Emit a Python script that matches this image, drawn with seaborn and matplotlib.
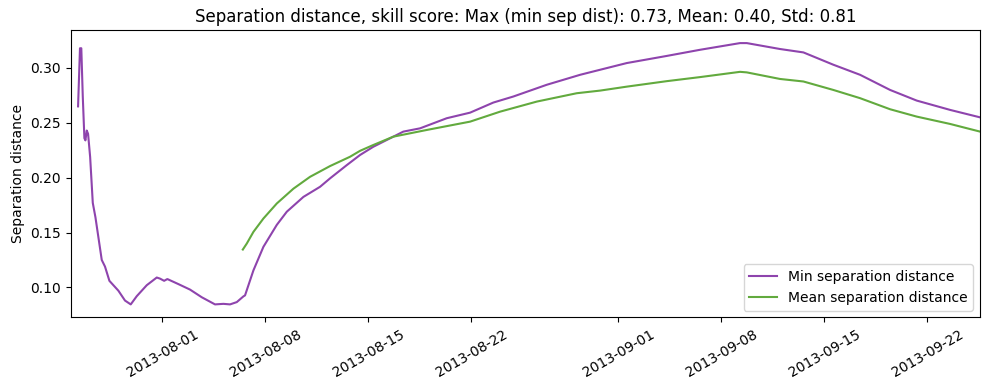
import matplotlib
matplotlib.use('Agg')
from matplotlib import pyplot as plt
import matplotlib.dates as mdates
import numpy as np
import pandas as pd
import seaborn as sns

# days after 2013-08-01 00:00
min_days = [-5.73, -5.60, -5.51, -5.41, -5.30, -5.23, -5.14, -5.05, -4.91, -4.73,
            -4.55, -4.12, -3.90, -3.60, -2.99, -2.54, -2.15, -1.74, -1.06, -0.38,
            -0.16, 0.12, 0.34, 1.09, 1.88, 2.68, 3.58, 4.15, 4.60, 5.06,
            5.51, 5.62, 6.19, 6.87, 7.78, 8.46, 9.59, 10.72, 11.40, 12.54,
            13.44, 14.34, 16.38, 17.52, 19.33, 20.92, 22.50, 23.86, 26.13, 28.40,
            29.76, 31.57, 34.29, 36.55, 39.27, 39.73, 41.99, 43.58, 45.61, 47.43,
            49.47, 51.28, 53.55, 55.59]
min_sep = [0.265, 0.318, 0.318, 0.274, 0.236, 0.234, 0.243, 0.240, 0.219, 0.177,
           0.164, 0.125, 0.119, 0.106, 0.097, 0.088, 0.0845, 0.092, 0.102, 0.109,
           0.108, 0.106, 0.1076, 0.103, 0.098, 0.091, 0.0845, 0.085, 0.0845, 0.0866,
           0.0918, 0.0927, 0.1155, 0.137, 0.157, 0.169, 0.1825, 0.1917, 0.1994, 0.2115,
           0.2207, 0.2282, 0.242, 0.245, 0.2542, 0.2593, 0.2685, 0.274, 0.2847, 0.2938,
           0.2984, 0.3045, 0.311, 0.3166, 0.3227, 0.3227, 0.3173, 0.3142, 0.303, 0.2938,
           0.280, 0.2703, 0.2618, 0.255]

mean_days = [5.47, 5.74, 6.19, 6.87, 7.78, 8.91, 10.04, 11.40, 12.76, 13.44,
             14.34, 15.70, 17.97, 20.92, 22.96, 25.46, 28.17, 29.76, 31.57, 34.29,
             36.55, 39.27, 39.73, 41.99, 43.58, 45.61, 47.43, 49.47, 51.28, 53.55,
             55.59]
mean_sep = [0.1345, 0.140, 0.1506, 0.1628, 0.1765, 0.190, 0.2008, 0.2106, 0.2191, 0.2245,
            0.2298, 0.2374, 0.2435, 0.2511, 0.2602, 0.2694, 0.277, 0.2794, 0.2830, 0.288,
            0.2917, 0.2965, 0.296, 0.290, 0.2877, 0.280, 0.2725, 0.2624, 0.2557, 0.249,
            0.242]

base = pd.Timestamp('2013-08-01')
min_time = base + pd.to_timedelta(min_days, unit='D')
mean_time = base + pd.to_timedelta(mean_days, unit='D')

fig, ax = plt.subplots(figsize=(9.89, 3.9), dpi=100)
sns.lineplot(x=min_time, y=min_sep, color='#8e44ad', lw=1.5,
             label='Min separation distance', ax=ax)
sns.lineplot(x=mean_time, y=mean_sep, color='#62aa3e', lw=1.5,
             label='Mean separation distance', ax=ax)

ax.set_xlim(base + pd.Timedelta(days=-6.23), base + pd.Timedelta(days=55.59))
ax.xaxis.set_major_locator(mdates.DayLocator(bymonthday=[1, 8, 15, 22]))
ax.xaxis.set_major_formatter(mdates.DateFormatter('%Y-%m-%d'))
plt.setp(ax.get_xticklabels(), rotation=30)
ax.set_xlabel('')
ax.set_ylabel('Separation distance')
ax.set_title('Separation distance, skill score: Max (min sep dist): 0.73, Mean: 0.40, Std: 0.81')
ax.legend(loc='lower right')

plt.subplots_adjust(left=0.0715, right=0.991, top=0.923, bottom=0.186)
plt.savefig('out.png', dpi=100)
